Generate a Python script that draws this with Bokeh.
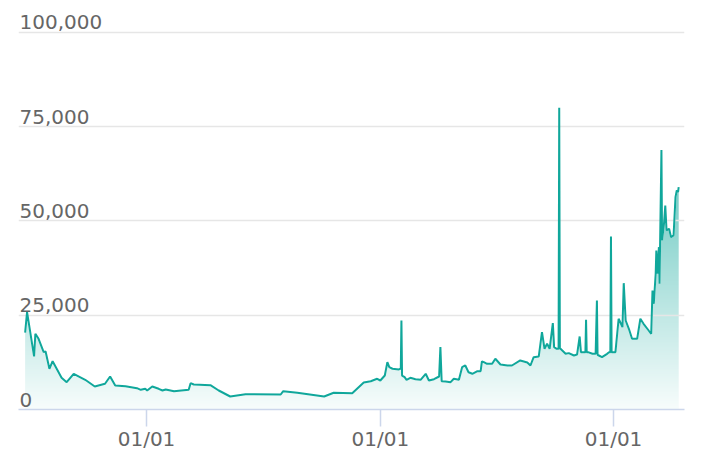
import numpy as np
import pandas as pd
from bokeh.plotting import figure
from bokeh.models import ColumnDataSource, Range1d, FixedTicker, DatetimeTickFormatter
from bokeh.core.properties import value
from bokeh.embed import file_html
from bokeh.resources import INLINE

# ---- data ----
dates = [
    "2019-06-25", "2019-06-28", "2019-07-09", "2019-07-11", "2019-07-16", "2019-07-24", "2019-07-27",
    "2019-08-02", "2019-08-07", "2019-08-21", "2019-08-29", "2019-09-09", "2019-09-27", "2019-10-12",
    "2019-10-28", "2019-11-05", "2019-11-13", "2019-11-29", "2019-12-17",
    "2019-12-23", "2019-12-30", "2020-01-02", "2020-01-10", "2020-01-20", "2020-01-26", "2020-01-31",
    "2020-02-13", "2020-03-07", "2020-03-10", "2020-03-15", "2020-04-10", "2020-04-23", "2020-05-11",
    "2020-06-04", "2020-07-29", "2020-08-02", "2020-08-24", "2020-10-05", "2020-10-20", "2020-11-18",
    "2020-12-06", "2020-12-17",
    "2020-12-27", "2021-01-01", "2021-01-08", "2021-01-12", "2021-01-15", "2021-01-20", "2021-01-30",
    "2021-02-01", "2021-02-02", "2021-02-03", "2021-02-04", "2021-02-08", "2021-02-11", "2021-02-17",
    "2021-02-25", "2021-03-05", "2021-03-13", "2021-03-18", "2021-03-26", "2021-04-03", "2021-04-05",
    "2021-04-07", "2021-04-13", "2021-04-21", "2021-04-26", "2021-05-04", "2021-05-09", "2021-05-14",
    "2021-05-19", "2021-05-25", "2021-06-02", "2021-06-07", "2021-06-09",
    "2021-06-12", "2021-06-17", "2021-06-25", "2021-06-30", "2021-07-08", "2021-07-19", "2021-07-26",
    "2021-08-08", "2021-08-19", "2021-08-24", "2021-08-29", "2021-09-06", "2021-09-11", "2021-09-15",
    "2021-09-19", "2021-09-23", "2021-09-28", "2021-09-30", "2021-10-04", "2021-10-07", "2021-10-08",
    "2021-10-09", "2021-10-10", "2021-10-18", "2021-10-23", "2021-10-31", "2021-11-05", "2021-11-09",
    "2021-11-11", "2021-11-15", "2021-11-18", "2021-11-19", "2021-11-20", "2021-11-22", "2021-11-29",
    "2021-12-04", "2021-12-06", "2021-12-07", "2021-12-09",
    "2021-12-14", "2021-12-22", "2021-12-25", "2021-12-27", "2021-12-28", "2021-12-29", "2021-12-30",
    "2022-01-04", "2022-01-09", "2022-01-15", "2022-01-17", "2022-01-20", "2022-01-25", "2022-01-30",
    "2022-02-07", "2022-02-12", "2022-02-17", "2022-02-25", "2022-03-01", "2022-03-03", "2022-03-05",
    "2022-03-08", "2022-03-09", "2022-03-11", "2022-03-13", "2022-03-14", "2022-03-17", "2022-03-18",
    "2022-03-21", "2022-03-23", "2022-03-25", "2022-03-29", "2022-04-01", "2022-04-05", "2022-04-08",
    "2022-04-10", "2022-04-12", "2022-04-13",
]
values = [
    20400, 25800, 14100, 20100, 18750, 15200, 15400, 10800, 12800, 8400, 7250, 9470, 7880, 6100,
    6820, 8750, 6370, 6180, 5650,
    5220, 5490, 5040, 6100, 5490, 5040, 5300, 4850, 5220, 6980, 6630, 6450, 5040, 3450, 4060, 3980,
    4850, 4430, 3450, 4430, 4320, 7160, 7500,
    8140, 7690, 9020, 12550, 11220, 10800, 10610, 10800, 10800, 23600, 9000, 8570, 7880, 8400, 8040,
    7880, 9470, 7690, 8040, 8750, 16530, 7500, 7430, 7250, 8140, 7880, 11220, 11670, 9890, 9470,
    10160, 10160, 12730,
    12550, 12120, 12120, 13450, 11940, 11670, 11670, 13000, 12470, 11670, 13870, 14060, 20500, 16100,
    17430, 16100, 22900, 16530, 16100, 16100, 80000, 16100, 16100, 14770, 14950, 14320, 14590, 19360,
    15200, 15200, 15200, 23790, 15200, 15200, 14770, 14770, 28900, 14500, 14320,
    13870, 14770, 15200, 15200, 45900, 15200, 15200, 15200, 24060, 21830, 33500, 23600, 21400, 18750,
    18750, 24060, 22730, 20950, 20070, 31560, 28030, 35990, 42170, 35990, 43050, 33340, 68800, 44830,
    49260, 54100, 47480, 47930, 45700, 46150, 56300, 58090, 57640, 58970,
]
assert len(dates) == len(values)

y_tick_values = [0, 25000, 50000, 75000, 100000]
y_tick_labels = ["0", "25,000", "50,000", "75,000", "100,000"]
x_tick_dates = ["2020-01-01", "2021-01-01", "2022-01-01"]

# ---- styling ----
LINE = (16, 167, 155)
LINE_HEX = "#10a79b"
LABEL_COLOR = "#666666"
FONT = "DejaVu Sans"

dt = pd.to_datetime(dates)
to_ms = lambda t: pd.Timestamp(t).value / 1e6
x_start = to_ms(dt[0] - pd.Timedelta(days=10.4))
x_end = to_ms(dt[-1] + pd.Timedelta(days=9.1))
y_top = 105800

src = ColumnDataSource(dict(x=dt, y=values))

p = figure(width=698, height=460, x_axis_type="datetime", y_axis_location=None,
           output_backend="svg", toolbar_location=None,
           x_range=Range1d(x_start, x_end), y_range=Range1d(0, y_top),
           min_border_left=18, min_border_right=14, min_border_top=10, min_border_bottom=51)
p.outline_line_color = None
p.xgrid.grid_line_color = None
p.ygrid.grid_line_color = None
p.background_fill_color = "white"
p.border_fill_color = "white"

# gradient fill under the curve: gradient image, then a white mask above the line
N = 300
img = np.zeros((N, 1), dtype=np.uint32)
view = img.view(dtype=np.uint8).reshape((N, 1, 4))
for i in range(N):
    f = (i + 0.5) / N
    a = 0.03 + 0.74 * f
    view[i, 0, 0] = int(round(255 * (1 - a) + LINE[0] * a))
    view[i, 0, 1] = int(round(255 * (1 - a) + LINE[1] * a))
    view[i, 0, 2] = int(round(255 * (1 - a) + LINE[2] * a))
    view[i, 0, 3] = 255
x0 = to_ms(dt[0])
x1 = to_ms(dt[-1])
p.image_rgba(image=[img], x=x0, y=0, dw=x1 - x0, dh=max(values))

mask_x = list(dt) + list(dt[::-1])
mask_y = list(values) + [y_top] * len(values)
p.patch(x=mask_x, y=mask_y, fill_color="white", line_color="white", line_width=2)

# grid lines
p.hspan(y=y_tick_values[1:], line_color="#e6e6e6", line_width=1.5)

# line
p.line(x="x", y="y", source=src, line_color=LINE_HEX, line_width=2)

# y labels inside plot
p.text(x=[x_start] * len(y_tick_values), y=y_tick_values, text=y_tick_labels,
       text_font=value(FONT), text_font_size="20px", text_color=LABEL_COLOR,
       text_baseline="bottom", text_align="left", x_offset=1, y_offset=-3)

# x axis
ax = p.xaxis[0]
ax.ticker = FixedTicker(ticks=[to_ms(d) for d in x_tick_dates])
ax.formatter = DatetimeTickFormatter(days="%m/%d", months="%m/%d", years="%m/%d",
                                     hours="%m/%d", minutes="%m/%d", seconds="%m/%d",
                                     milliseconds="%m/%d", microseconds="%m/%d")
ax.axis_line_color = "#ccd6eb"
ax.axis_line_width = 1.5
ax.major_tick_line_color = "#ccd6eb"
ax.major_tick_line_width = 1.5
ax.major_tick_out = 17
ax.major_tick_in = 0
ax.minor_tick_out = 0
ax.minor_tick_in = 0
ax.major_label_text_font = FONT
ax.major_label_text_font_size = "20px"
ax.major_label_text_color = LABEL_COLOR
ax.major_label_standoff = 0

open("out.html", "w").write(file_html(p, INLINE))
